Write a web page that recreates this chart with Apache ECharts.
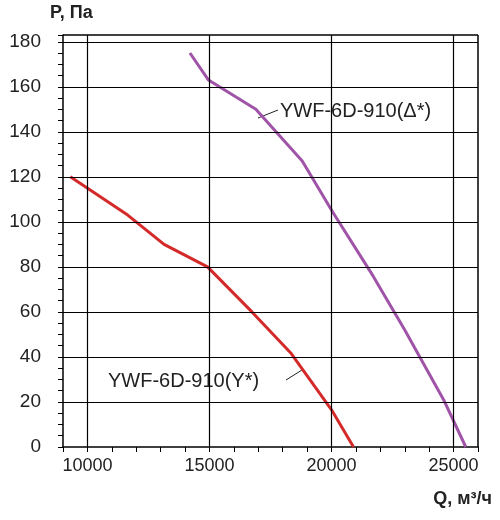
<!DOCTYPE html><html><head><meta charset="utf-8"><script src="https://cdn.jsdelivr.net/npm/echarts@6/dist/echarts.min.js"></script></head><body style="margin:0"><div id="c" style="width:500px;height:520px"></div><script>
const redQ=[9300,11650,13140,14920,16740,18350,20000,20900];
const redP=[120,103,90,80,60,41.5,16.5,0];
const purQ=[14200,14960,16900,18800,20040,21700,23000,24590,25500];
const purP=[175,163,150,127,104.5,76,52,21,0];
const gridQ=[10000,15000,20000,25000];
const gridP=[20,40,60,80,100,120,140,160,180];
const redName='YWF-6D-910(Y*)', purName='YWF-6D-910(Δ*)';
const ch=echarts.init(document.getElementById('c'));
const F='Liberation Sans, Arial, sans-serif';
ch.setOption({animation:false,
grid:{left:63,right:22,top:35,bottom:73},
xAxis:{type:'value',min:9000,max:26000,interval:1000,
 axisLine:{lineStyle:{color:'#000',width:1.5}},axisTick:{length:5,lineStyle:{color:'#000'}},
 axisLabel:{color:'#222',fontSize:18,fontFamily:F,margin:10,formatter:v=>v%5000===0?String(v):''},
 splitLine:{show:false}},
yAxis:{type:'value',min:0,max:183,interval:5,
 axisLine:{lineStyle:{color:'#000',width:1.5}},axisTick:{length:5,lineStyle:{color:'#000'}},
 axisLabel:{color:'#222',fontSize:19,fontFamily:F,margin:22,formatter:v=>v%20===0?String(v):''},
 splitLine:{show:false}},
series:[
 {type:'line',data:[],silent:true,markLine:{silent:true,symbol:'none',label:{show:false},animation:false,
  lineStyle:{color:'#000',width:1.2,type:'solid'},
  data:gridQ.map(q=>({xAxis:q})).concat(gridP.map(p=>({yAxis:p})))}},
 {type:'line',data:redQ.map((q,i)=>[q,redP[i]]),symbol:'none',lineStyle:{color:'#d42a2a',width:3}},
 {type:'line',data:purQ.map((q,i)=>[q,purP[i]]),symbol:'none',lineStyle:{color:'#a054a8',width:3}}
],
graphic:[
 {type:'line',shape:{x1:63,y1:35,x2:478,y2:35},style:{stroke:'#000',lineWidth:1.5}},
 {type:'line',shape:{x1:478,y1:35,x2:478,y2:447},style:{stroke:'#000',lineWidth:1.5}},
 {type:'text',left:50,top:4,style:{text:'P, Па',font:'bold 18px '+F,fill:'#222'}},
 {type:'text',right:8,top:490,style:{text:'Q, м³/ч',font:'bold 18px '+F,fill:'#222'}},
 {type:'rect',shape:{x:278,y:100,width:174,height:24},style:{fill:'#fff'}},
 {type:'text',left:280,top:101,style:{text:purName,font:'20px '+F,fill:'#222'}},
 {type:'line',shape:{x1:258,y1:118,x2:278,y2:110},style:{stroke:'#222',lineWidth:1}},
 {type:'rect',shape:{x:106,y:370,width:182,height:24},style:{fill:'#fff'}},
 {type:'text',left:108,top:371,style:{text:redName,font:'20px '+F,fill:'#222'}},
 {type:'line',shape:{x1:286,y1:380,x2:302,y2:370},style:{stroke:'#222',lineWidth:1}}
]});
</script></body></html>
